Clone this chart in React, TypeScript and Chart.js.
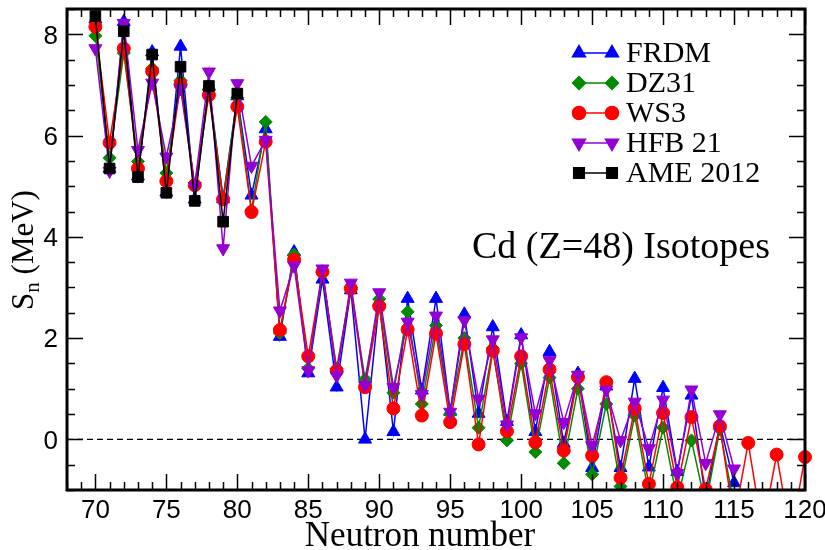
import React, { useEffect, useRef } from "react";
import { Chart, registerables } from "chart.js";
import { drawPoint } from "chart.js/helpers";

Chart.register(...registerables);

const neutronNumbers = [
  70, 71, 72, 73, 74, 75, 76, 77, 78, 79, 80, 81, 82, 83, 84, 85, 86, 87, 88, 89,
  90, 91, 92, 93, 94, 95, 96, 97, 98, 99, 100, 101, 102, 103, 104, 105, 106, 107,
  108, 109, 110, 111, 112, 113, 114, 115, 116, 117, 118, 119, 120,
];

const frdm = [
  8.3, 5.35, 8.25, 5.2, 7.65, 4.88, 7.76, 4.74, 6.98, 4.75, 6.78, 4.82, 6.13, 2.03,
  3.7, 1.31, 3.16, 1.03, 2.95, 0.0, 2.72, 0.15, 2.78, 0.97, 2.78, 0.55, 2.47, 0.51,
  2.22, 0.35, 2.06, 0.15, 1.73, -0.08, 1.3, -0.56, 1.05, -0.56, 1.2, -0.55, 1.02,
  -0.64, 0.87, -1.2, 0.3, -0.86,
];

const dz31 = [
  7.97, 5.56, 7.63, 5.49, 7.33, 5.26, 7.09, 5.0, 6.9, 4.75, 6.75, 4.52, 6.27, 2.1,
  3.65, 1.4, 3.3, 1.4, 3.0, 1.19, 2.77, 0.92, 2.52, 0.7, 2.25, 0.5, 2.0, 0.23, 1.8,
  -0.02, 1.5, -0.25, 1.22, -0.47, 1.0, -0.69, 0.7, -0.93, 0.47, -1.1, 0.23, -1.2,
  -0.02, -1.3, 0.2, -1.3,
];

const ws3 = [
  8.15, 5.86, 7.72, 5.35, 7.27, 5.1, 7.01, 5.02, 6.8, 4.74, 6.57, 4.49, 5.88, 2.16,
  3.55, 1.64, 3.31, 1.35, 2.98, 1.03, 2.63, 0.61, 2.17, 0.47, 2.09, 0.34, 1.88, -0.1,
  1.75, 0.16, 1.64, -0.06, 1.38, -0.22, 1.23, -0.32, 1.13, -0.76, 0.61, -0.88, 0.52,
  -0.95, 0.44, -0.99, 0.26, -1.6, -0.07, -1.8, -0.3, -1.9, -0.35,
];

const hfb21 = [
  7.72, 5.3, 8.22, 5.71, 7.04, 5.58, 6.93, 5.0, 7.26, 3.77, 7.03, 5.4, 5.91, 2.54,
  3.43, 1.36, 3.37, 1.26, 3.09, 1.07, 2.9, 1.03, 2.32, 0.89, 2.44, 0.54, 2.35, 0.8,
  1.97, 0.29, 2.01, 0.51, 1.56, 0.34, 1.27, -0.12, 0.98, -0.02, 0.74, -0.18, 0.78,
  -0.67, 0.98, -0.47, 0.49, -0.58,
];

const ame2012 = [8.36, 5.35, 8.06, 5.18, 7.6, 4.87, 7.36, 4.71, 6.98, 4.3, 6.83];

const seriesNames = ["FRDM", "DZ31", "WS3", "HFB 21", "AME 2012"];
const seriesColors = ["#0000ff", "#008b00", "#ff0000", "#9400d3", "#000000"];
const seriesValues = [frdm, dz31, ws3, hfb21, ame2012];
const pointStyles = ["triangle", "rectRot", "circle", "triangle", "rect"];
const pointRotations = [0, 0, 0, 180, 0];
const pointRadii = [7.5, 6.5, 6.5, 7.5, 7.5];

const xTickLabels = [70, 75, 80, 85, 90, 95, 100, 105, 110, 115, 120];
const yTickLabels = [0, 2, 4, 6, 8];

const X_MIN = 68;
const X_MAX = 120;
const Y_MIN = -1;
const Y_MAX = 8.5;

const SERIF = "'Liberation Serif', 'Times New Roman', serif";
const SANS = "'Liberation Sans Narrow', 'Liberation Sans', Arial, sans-serif";
const TICK_FONT_SIZE = 26;

const decorPlugin = {
  id: "decor",
  beforeDatasetsDraw(chart: any) {
    const { ctx, scales } = chart;
    const xs = scales.x;
    const ys = scales.y;
    const y0 = ys.getPixelForValue(0);
    ctx.save();
    ctx.strokeStyle = "#000";
    ctx.lineWidth = 1.2;
    ctx.setLineDash([6, 4]);
    ctx.beginPath();
    ctx.moveTo(xs.getPixelForValue(X_MIN), y0);
    ctx.lineTo(xs.getPixelForValue(X_MAX), y0);
    ctx.stroke();
    ctx.restore();
  },
  afterDraw(chart: any) {
    const { ctx, scales } = chart;
    const xs = scales.x;
    const ys = scales.y;
    const left = xs.getPixelForValue(X_MIN);
    const right = xs.getPixelForValue(X_MAX);
    const top = ys.getPixelForValue(Y_MAX);
    const bottom = ys.getPixelForValue(Y_MIN);
    ctx.save();
    ctx.strokeStyle = "#000";
    ctx.lineWidth = 1.5;
    ctx.setLineDash([]);
    // x ticks (inside, top & bottom)
    for (let n = X_MIN; n <= X_MAX; n += 1) {
      const px = Math.round(xs.getPixelForValue(n)) + 0.5;
      const len = n % 5 === 0 ? 16 : 8;
      ctx.beginPath();
      ctx.moveTo(px, bottom);
      ctx.lineTo(px, bottom - len);
      ctx.moveTo(px, top);
      ctx.lineTo(px, top + len);
      ctx.stroke();
    }
    // y ticks (inside, left & right)
    for (let k = 0; k <= (Y_MAX - Y_MIN) * 2; k++) {
      const v = Y_MIN + k * 0.5;
      const py = Math.round(ys.getPixelForValue(v)) + 0.5;
      const len = Math.abs(v % 2) < 1e-6 ? 16 : 8;
      ctx.beginPath();
      ctx.moveTo(left, py);
      ctx.lineTo(left + len, py);
      ctx.moveTo(right, py);
      ctx.lineTo(right - len, py);
      ctx.stroke();
    }
    // frame
    ctx.lineWidth = 3;
    ctx.strokeRect(left, top, right - left, bottom - top);

    // tick labels
    ctx.fillStyle = "#000";
    ctx.font = `${TICK_FONT_SIZE}px ${SANS}`;
    ctx.textBaseline = "alphabetic";
    ctx.textAlign = "center";
    xTickLabels.forEach((v) => {
      ctx.fillText(String(v), xs.getPixelForValue(v), bottom + 28);
    });
    ctx.textAlign = "right";
    yTickLabels.forEach((v) => {
      ctx.fillText(String(v), left - 9, ys.getPixelForValue(v) + TICK_FONT_SIZE * 0.36);
    });

    // legend
    const legendTop = 53;
    const legendGap = 30;
    const lx1 = 579;
    const lx2 = 612;
    seriesNames.forEach((name, i) => {
      const ly = legendTop + i * legendGap;
      const color = seriesColors[i];
      ctx.strokeStyle = color;
      ctx.fillStyle = color;
      ctx.lineWidth = 1.5;
      ctx.beginPath();
      ctx.moveTo(lx1, ly);
      ctx.lineTo(lx2, ly);
      ctx.stroke();
      const opts = {
        pointStyle: pointStyles[i],
        radius: pointRadii[i],
        rotation: pointRotations[i],
        borderWidth: 1,
      };
      drawPoint(ctx, opts as any, lx1, ly);
      drawPoint(ctx, opts as any, lx2, ly);
      ctx.fillStyle = "#000";
      ctx.font = `30px ${SERIF}`;
      ctx.textAlign = "left";
      ctx.textBaseline = "middle";
      ctx.fillText(name, 626, ly + 1);
    });

    // annotation
    ctx.fillStyle = "#000";
    ctx.font = `38px ${SERIF}`;
    ctx.textAlign = "left";
    ctx.textBaseline = "alphabetic";
    ctx.fillText("Cd (Z=48) Isotopes", 472, 258);

    // x axis title
    ctx.font = `35px ${SERIF}`;
    ctx.textAlign = "center";
    ctx.fillText("Neutron number", 420, 546);

    // y axis title with subscript
    ctx.translate(33, 250);
    ctx.rotate(-Math.PI / 2);
    ctx.textAlign = "left";
    const big = `31px ${SERIF}`;
    const small = `21px ${SERIF}`;
    ctx.font = big;
    const wS = ctx.measureText("S").width;
    const wRest = ctx.measureText(" (MeV)").width;
    ctx.font = small;
    const wn = ctx.measureText("n").width;
    const total = wS + wn + wRest;
    let cx = -total / 2;
    ctx.font = big;
    ctx.fillText("S", cx, 0);
    cx += wS;
    ctx.font = small;
    ctx.fillText("n", cx, 6);
    cx += wn;
    ctx.font = big;
    ctx.fillText(" (MeV)", cx, 0);
    ctx.restore();
  },
};

export default function App() {
  const canvasRef = useRef<HTMLCanvasElement | null>(null);

  useEffect(() => {
    const canvas = canvasRef.current;
    if (!canvas) return;
    const datasets = seriesNames.map((name, i) => ({
      label: name,
      data: seriesValues[i].map((v, j) => ({ x: neutronNumbers[j], y: v })),
      borderColor: seriesColors[i],
      backgroundColor: seriesColors[i],
      borderWidth: 1.5,
      pointStyle: pointStyles[i],
      pointRotation: pointRotations[i],
      pointRadius: pointRadii[i],
      pointBorderWidth: 1,
      pointHoverRadius: pointRadii[i],
      tension: 0,
      order: seriesNames.length - 1 - i,
      clip: { left: 8, top: 8, right: 8, bottom: 0 },
    }));

    const chart = new Chart(canvas, {
      type: "line",
      data: { datasets },
      plugins: [decorPlugin],
      options: {
        animation: false,
        responsive: false,
        devicePixelRatio: 1,
        layout: { padding: { top: 9, right: 20, left: 0, bottom: 0 } },
        plugins: { legend: { display: false }, tooltip: { enabled: false } },
        scales: {
          x: {
            type: "linear",
            min: X_MIN,
            max: X_MAX,
            grid: { display: false, drawTicks: false },
            border: { display: false },
            ticks: { display: false },
            afterFit: (s: any) => {
              s.height = 60;
              s.paddingLeft = 0;
              s.paddingRight = 0;
            },
          },
          y: {
            type: "linear",
            min: Y_MIN,
            max: Y_MAX,
            grid: { display: false, drawTicks: false },
            border: { display: false },
            ticks: { display: false },
            afterFit: (s: any) => {
              s.width = 67;
              s.paddingTop = 0;
              s.paddingBottom = 0;
            },
          },
        },
      },
    } as any);
    return () => chart.destroy();
  }, []);

  return (
    <div style={{ position: "fixed", left: 0, top: 0, width: 825, height: 550, background: "#fff" }}>
      <canvas ref={canvasRef} width={825} height={550} />
    </div>
  );
}
